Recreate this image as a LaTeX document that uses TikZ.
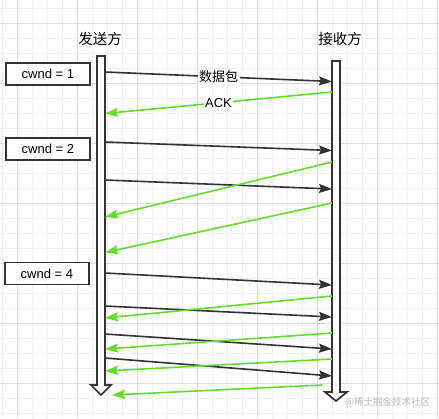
\documentclass[tikz,border=0pt]{standalone}
\usepackage{fontspec}
\setmainfont{Liberation Sans}
\newfontfamily\cjk{Noto Sans CJK SC}
\usetikzlibrary{arrows.meta}
\definecolor{ink}{HTML}{333333}
\definecolor{ackgreen}{HTML}{62DE2A}
\definecolor{gridminor}{HTML}{EFEFEF}
\definecolor{gridmajor}{HTML}{DDDDDD}
\begin{document}
\begin{tikzpicture}[x=1pt,y=-1pt,
  msg/.style={draw=ink,line width=1.6pt,-{Stealth[length=13pt,width=9pt,inset=2pt]}},
  ack/.style={draw=ackgreen,line width=1.6pt,-{Stealth[length=13pt,width=9pt,inset=2pt]}},
  lifeline/.style={draw=ink,fill=white,line width=1.7pt,line join=miter},
  cwndbox/.style={draw=ink,line width=1.8pt,fill=white,minimum width=84pt,minimum height=22pt,inner sep=0pt,font=\fontsize{13}{15}\selectfont,anchor=north west},
  title/.style={font=\cjk\fontsize{14.5}{16}\selectfont,inner sep=0pt},
  lbl/.style={fill=white,inner sep=1.5pt,font=\fontsize{13}{15}\selectfont}]
\useasboundingbox (0,0) rectangle (439,418);
\fill[white] (0,0) rectangle (439,418);
% grid
\foreach \k in {0,...,29}{\draw[gridminor,line width=0.8pt] ({2+15*\k},0) -- ({2+15*\k},418);}
\foreach \k in {0,...,27}{\draw[gridminor,line width=0.8pt] (0,{8+15*\k}) -- (439,{8+15*\k});}
\foreach \x in {17,77,137,197,257,317,377,437}{\draw[gridmajor,line width=0.8pt] (\x,0) -- (\x,418);}
\foreach \y in {23,83,143,203,263,323,383}{\draw[gridmajor,line width=0.8pt] (0,\y) -- (439,\y);}
% titles
\node[title] (tsend) at (100,38.5) {发送方};
\node[title] (trecv) at (340,38.5) {接收方};
% lifelines
\draw[lifeline] (97,56) -- (105,56) -- (105,385) -- (111,385) -- (101,395) -- (91,385) -- (97,385) -- cycle;
\draw[lifeline] (332,61) -- (340,61) -- (340,392) -- (347,392) -- (336,401) -- (325,392) -- (332,392) -- cycle;
% boxes
\node[cwndbox] (c1) at (5,62) {cwnd = 1};
\node[cwndbox] (c2) at (5,137) {cwnd = 2};
\node[cwndbox] (c4) at (4,261.5) {cwnd = 4};
% coordinates
\coordinate (s1) at (105,72);   \coordinate (r1) at (332,81.5);
\coordinate (r2) at (332,92);   \coordinate (s2) at (105,113.5);
\coordinate (s3) at (105,142);  \coordinate (r3) at (332,150.5);
\coordinate (s4) at (105,180);  \coordinate (r4) at (332,189);
\coordinate (r5) at (332,162);  \coordinate (s5) at (105,217);
\coordinate (r6) at (332,203);  \coordinate (s6) at (105,252.5);
\coordinate (s7) at (105,273);  \coordinate (r7) at (332,285);
\coordinate (r8) at (332,296);  \coordinate (s8) at (105,318);
\coordinate (s9) at (105,306);  \coordinate (r9) at (332,317);
\coordinate (r10) at (332,333); \coordinate (s10) at (105,349);
\coordinate (s11) at (105,334); \coordinate (r11) at (332,349);
\coordinate (r12) at (332,359); \coordinate (s12) at (105,371);
\coordinate (s13) at (105,358); \coordinate (r13) at (332,376);
\coordinate (r14) at (322,385); \coordinate (s14) at (112,395);
% messages
\draw[msg] (s1) -- node[lbl,pos=0.5] {\cjk 数据包} (r1);
\draw[ack] (r2) -- node[lbl,pos=0.5] {ACK} (s2);
\draw[msg] (s3) -- (r3);
\draw[msg] (s4) -- (r4);
\draw[ack] (r5) -- (s5);
\draw[ack] (r6) -- (s6);
\draw[msg] (s7) -- (r7);
\draw[msg] (s9) -- (r9);
\draw[ack] (r8) -- (s8);
\draw[msg] (s11) -- (r11);
\draw[ack] (r10) -- (s10);
\draw[msg] (s13) -- (r13);
\draw[ack] (r12) -- (s12);
\draw[ack] (r14) -- (s14);
% watermark
\node[font=\cjk\fontsize{9.5}{11}\selectfont,text=gray!55,anchor=west,inner sep=0pt] (wm) at (345,402) {@稀土掘金技术社区};
\end{tikzpicture}
\end{document}
